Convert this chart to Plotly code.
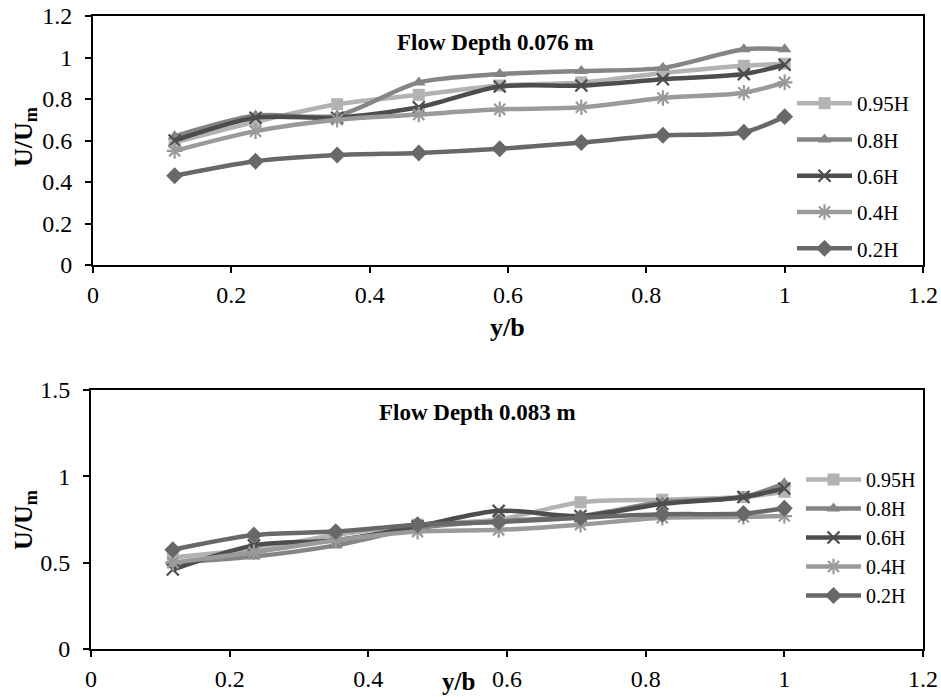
import plotly.graph_objects as go

# Relative lateral position across the channel
y_over_b = [0.118, 0.235, 0.353, 0.471, 0.588, 0.706, 0.824, 0.941, 1.0]

series_names = ["0.95H", "0.8H", "0.6H", "0.4H", "0.2H"]

# Flow depth 0.076 m : U/Um at each relative height
d076_095H = [0.59, 0.69, 0.775, 0.82, 0.865, 0.88, 0.925, 0.96, 0.97]
d076_08H = [0.62, 0.72, 0.72, 0.88, 0.92, 0.935, 0.95, 1.04, 1.04]
d076_06H = [0.60, 0.71, 0.71, 0.76, 0.86, 0.865, 0.895, 0.92, 0.965]
d076_04H = [0.55, 0.645, 0.70, 0.725, 0.75, 0.76, 0.805, 0.83, 0.88]
d076_02H = [0.43, 0.50, 0.53, 0.54, 0.56, 0.59, 0.625, 0.64, 0.715]

# Flow depth 0.083 m : U/Um at each relative height
d083_095H = [0.53, 0.58, 0.66, 0.72, 0.75, 0.85, 0.865, 0.88, 0.91]
d083_08H = [0.50, 0.535, 0.60, 0.70, 0.74, 0.77, 0.85, 0.88, 0.96]
d083_06H = [0.46, 0.60, 0.63, 0.71, 0.80, 0.77, 0.84, 0.88, 0.93]
d083_04H = [0.50, 0.56, 0.63, 0.68, 0.69, 0.72, 0.76, 0.765, 0.77]
d083_02H = [0.575, 0.66, 0.68, 0.72, 0.735, 0.76, 0.78, 0.785, 0.815]

top_sets = [d076_095H, d076_08H, d076_06H, d076_04H, d076_02H]
bottom_sets = [d083_095H, d083_08H, d083_06H, d083_04H, d083_02H]

x_ticks = [0, 0.2, 0.4, 0.6, 0.8, 1.0, 1.2]
top_y_ticks = [0, 0.2, 0.4, 0.6, 0.8, 1.0, 1.2]
bottom_y_ticks = [0, 0.5, 1.0, 1.5]

colors = ["#b3b3b3", "#858585", "#4d4d4d", "#9a9a9a", "#686868"]
symbols = ["square", "triangle-up", "x-thin-open", "asterisk-open", "diamond"]
sizes = [12, 12, 12, 13, 13]

FONT = "Liberation Serif"

fig = go.Figure()

for panel, (sets, xa, ya, lg) in enumerate([
    (top_sets, "x", "y", "legend"),
    (bottom_sets, "x2", "y2", "legend2"),
]):
    for i, (name, vals) in enumerate(zip(series_names, sets)):
        open_sym = symbols[i].endswith("open")
        fig.add_trace(go.Scatter(
            x=y_over_b, y=vals, name=name, mode="lines+markers",
            xaxis=xa, yaxis=ya, legend=lg,
            legendgroup=f"p{panel}_{i}",
            line=dict(color=colors[i], width=4.5, shape="spline", smoothing=0.8),
            marker=dict(symbol=symbols[i], size=sizes[i], color=colors[i],
                        line=dict(color=colors[i], width=2.2 if open_sym else 0)),
        ))

axis_common = dict(
    showgrid=False, zeroline=False, showline=True, linecolor="black",
    linewidth=2, mirror=True, ticks="outside", ticklen=6, tickwidth=2,
    tickcolor="black", tickfont=dict(family=FONT, size=24, color="black"),
    automargin=False,
)

fig.update_layout(
    width=941, height=697,
    margin=dict(l=0, r=0, t=0, b=0, autoexpand=False),
    paper_bgcolor="white", plot_bgcolor="white",
    font=dict(family=FONT, color="black"),
    xaxis=dict(domain=[93 / 941, 923 / 941], range=[0, 1.2], tickvals=x_ticks,
               anchor="y", ticklabelstandoff=1, **axis_common),
    yaxis=dict(domain=[1 - 265 / 697, 1 - 16 / 697], range=[0, 1.2],
               tickvals=top_y_ticks, anchor="x", ticklabelstandoff=8, **axis_common),
    xaxis2=dict(domain=[91 / 941, 923 / 941], range=[0, 1.2], tickvals=x_ticks,
                anchor="y2", ticklabelstandoff=1, **axis_common),
    yaxis2=dict(domain=[1 - 649 / 697, 1 - 390 / 697], range=[0, 1.5],
                tickvals=bottom_y_ticks, anchor="x2", ticklabelstandoff=8, **axis_common),
    legend=dict(x=792 / 941, y=1 - 83 / 697, xanchor="left", yanchor="top",
                bgcolor="rgba(0,0,0,0)", itemwidth=55, tracegroupgap=6,
                font=dict(family=FONT, size=21, color="black")),
    legend2=dict(x=801 / 941, y=1 - 460 / 697, xanchor="left", yanchor="top",
                 bgcolor="rgba(0,0,0,0)", itemwidth=55, tracegroupgap=0,
                 font=dict(family=FONT, size=20, color="black")),
)

annotations = [
    dict(text="<b>Flow Depth 0.076 m</b>", x=496 / 941, y=1 - 43 / 697,
         font=dict(size=23)),
    dict(text="<b>Flow Depth 0.083 m</b>", x=477 / 941, y=1 - 412 / 697,
         font=dict(size=23)),
    dict(text="<b>y/b</b>", x=508 / 941, y=1 - 327 / 697, font=dict(size=26)),
    dict(text="<b>y/b</b>", x=458 / 941, y=0.0, yanchor="bottom",
         font=dict(size=25)),
    dict(text="<b>U/U<sub>m</sub></b>", x=25 / 941, y=1 - 137 / 697,
         textangle=-90, font=dict(size=26)),
    dict(text="<b>U/U<sub>m</sub></b>", x=25 / 941, y=1 - 520 / 697,
         textangle=-90, font=dict(size=26)),
]
for a in annotations:
    a.setdefault("yanchor", "middle")
    a.update(xref="paper", yref="paper", showarrow=False, xanchor="center")
    a["font"].update(family=FONT, color="black")
fig.update_layout(annotations=annotations)

fig.write_html("out.html")
